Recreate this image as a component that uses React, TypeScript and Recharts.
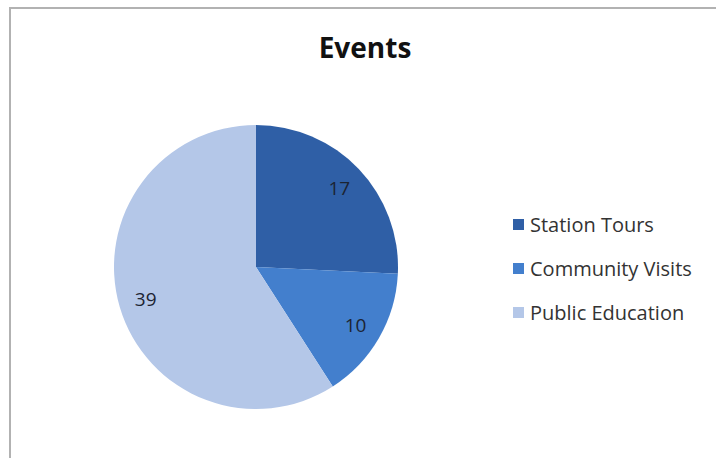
import { PieChart, Pie, Cell, Legend } from 'recharts'

const categories = ['Station Tours', 'Community Visits', 'Public Education']
const values = [17, 10, 39]
const colors = ['#2f5fa6', '#437fcd', '#b4c7e8']

const chartData = categories.map((name, i) => ({ name, value: values[i] }))

const RAD = Math.PI / 180

const renderLabel = (props: any) => {
  const { cx, cy, midAngle, outerRadius, value } = props
  const r = outerRadius * 0.81
  const x = cx + r * Math.cos(-midAngle * RAD)
  const y = cy + r * Math.sin(-midAngle * RAD)
  return (
    <text
      x={x}
      y={y}
      fill="#1c2433"
      textAnchor="middle"
      dominantBaseline="central"
      fontSize={19}
      fontFamily="Open Sans"
    >
      {value}
    </text>
  )
}

const renderLegend = () => (
  <div style={{ fontFamily: 'Open Sans', fontSize: 20, color: '#333' }}>
    {categories.map((name, i) => (
      <div key={name} style={{ display: 'flex', alignItems: 'center', height: 44 }}>
        <span
          style={{
            display: 'inline-block',
            width: 11,
            height: 11,
            background: colors[i],
            marginRight: 6,
          }}
        />
        <span>{name}</span>
      </div>
    ))}
  </div>
)

export default function App() {
  return (
    <div style={{ position: 'absolute', left: 0, top: 0, width: 716, height: 458, background: '#fff' }}>
      <style>{'body{margin:0}'}</style>
      {/* frame of the original chart area */}
      <div
        style={{
          position: 'absolute',
          left: 9,
          top: 7,
          right: 0,
          bottom: 0,
          borderTop: '2px solid #b2b2b2',
          borderLeft: '2px solid #b2b2b2',
        }}
      />
      <PieChart
        width={716}
        height={458}
        margin={{ top: 0, right: 0, bottom: 0, left: 0 }}
        style={{ position: 'absolute', left: 0, top: 0 }}
      >
        <text
          x={365}
          y={47}
          textAnchor="middle"
          dominantBaseline="central"
          fontSize={28}
          fontWeight="bold"
          fontFamily="Open Sans"
          fill="#111"
        >
          Events
        </text>
        <Pie
          data={chartData}
          dataKey="value"
          nameKey="name"
          cx={256}
          cy={267}
          outerRadius={142}
          startAngle={90}
          endAngle={-270}
          stroke="none"
          label={renderLabel}
          labelLine={false}
          isAnimationActive={false}
        >
          {chartData.map((d, i) => (
            <Cell key={d.name} fill={colors[i]} />
          ))}
        </Pie>
        <Legend
          layout="vertical"
          content={renderLegend}
          wrapperStyle={{ position: 'absolute', left: 513, top: 202, width: 200 }}
        />
      </PieChart>
    </div>
  )
}
